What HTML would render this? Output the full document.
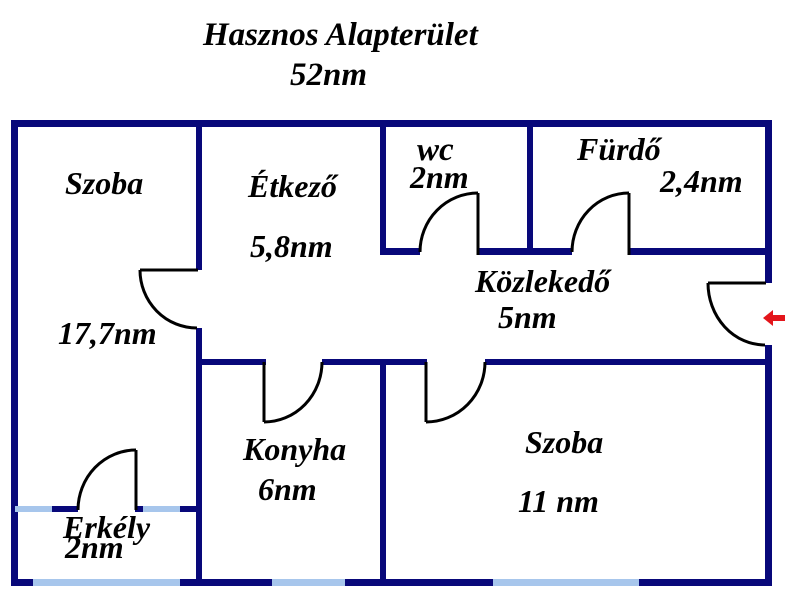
<!DOCTYPE html>
<html>
<head>
<meta charset="utf-8">
<style>
  html,body{margin:0;padding:0;background:#ffffff;}
  body{width:800px;height:600px;overflow:hidden;}
  svg{display:block;}
  text{font-family:"Liberation Serif","Times New Roman",serif;font-weight:bold;font-style:italic;fill:#000;}
</style>
</head>
<body>
<svg width="800" height="600" viewBox="0 0 800 600" xmlns="http://www.w3.org/2000/svg">
  <rect width="800" height="600" fill="#fff"/>

  <!-- Title -->
  <text x="203" y="45" font-size="33">Hasznos Alapterület</text>
  <text x="290" y="85" font-size="33">52nm</text>

  <g fill="#08087a">
    <!-- outer walls -->
    <rect x="11" y="120" width="761" height="7" rx="2"/>
    <rect x="11" y="120" width="7" height="466"/>
    <rect x="765" y="120" width="7" height="163"/>
    <rect x="765" y="345" width="7" height="241"/>
    <rect x="11" y="579" width="761" height="7"/>

    <!-- vertical wall Szoba / Etkezo -->
    <rect x="196" y="120" width="6" height="150"/>
    <rect x="196" y="328" width="6" height="258"/>

    <!-- wall Etkezo / wc -->
    <rect x="380" y="120" width="6" height="135"/>
    <!-- wc / Furdo -->
    <rect x="527" y="120" width="6" height="135"/>
    <!-- horizontal wall under wc/furdo -->
    <rect x="380" y="248" width="40" height="7"/>
    <rect x="479" y="248" width="93" height="7"/>
    <rect x="629" y="248" width="140" height="7"/>

    <!-- horizontal wall below corridor -->
    <rect x="196" y="359" width="70" height="6"/>
    <rect x="322" y="359" width="105" height="6"/>
    <rect x="485" y="359" width="287" height="6"/>

    <!-- wall Konyha / Szoba -->
    <rect x="380" y="359" width="6" height="227"/>

    <!-- balcony wall dark parts -->
    <rect x="52" y="506" width="26" height="6"/>
    <rect x="135" y="506" width="8" height="6"/>
    <rect x="180" y="506" width="20" height="6"/>
  </g>

  <g fill="#a7c6ec">
    <!-- balcony windows -->
    <rect x="15" y="506" width="37" height="6"/>
    <rect x="143" y="506" width="37" height="6"/>
    <!-- bottom windows -->
    <rect x="33" y="579" width="147" height="7"/>
    <rect x="272" y="579" width="73" height="7"/>
    <rect x="493" y="579" width="146" height="7"/>
  </g>

  <!-- doors -->
  <g fill="none" stroke="#000" stroke-width="3">
    <!-- Szoba / Etkezo door -->
    <path d="M140,270 L198,270"/>
    <path d="M140,270 A57,58 0 0,0 197,328"/>
    <!-- wc door -->
    <path d="M478,193 L478,255"/>
    <path d="M420,252 A58,59 0 0,1 478,193"/>
    <!-- Furdo door -->
    <path d="M629,193 L629,255"/>
    <path d="M572,252 A57,59 0 0,1 629,193"/>
    <!-- entrance door -->
    <path d="M708,283 L766,283"/>
    <path d="M708,283 A57,62 0 0,0 765,345"/>
    <!-- Konyha door -->
    <path d="M264,362 L264,422"/>
    <path d="M264,422 A58,60 0 0,0 322,362"/>
    <!-- Szoba door -->
    <path d="M426,362 L426,422"/>
    <path d="M426,422 A59,60 0 0,0 485,362"/>
    <!-- Erkely door -->
    <path d="M136,450 L136,510"/>
    <path d="M78,510 A58,60 0 0,1 136,450"/>
  </g>

  <!-- red entrance arrow -->
  <polygon points="763,318 773,310 773,315 785,315 785,321 773,321 773,326" fill="#e3151b"/>

  <!-- labels -->
  <text x="65" y="194" font-size="32">Szoba</text>
  <text x="58" y="344" font-size="32">17,7nm</text>
  <text x="248" y="197" font-size="32">Étkező</text>
  <text x="250" y="257" font-size="32">5,8nm</text>
  <text x="417" y="160" font-size="33">wc</text>
  <text x="410" y="188" font-size="32">2nm</text>
  <text x="577" y="160" font-size="32">Fürdő</text>
  <text x="660" y="192" font-size="32">2,4nm</text>
  <text x="475" y="292" font-size="32">Közlekedő</text>
  <text x="498" y="328" font-size="32">5nm</text>
  <text x="243" y="460" font-size="32">Konyha</text>
  <text x="258" y="500" font-size="32">6nm</text>
  <text x="63" y="538" font-size="32">Erkély</text>
  <text x="65" y="558" font-size="32">2nm</text>
  <text x="525" y="453" font-size="32">Szoba</text>
  <text x="518" y="512" font-size="32">11 nm</text>
</svg>
</body>
</html>
